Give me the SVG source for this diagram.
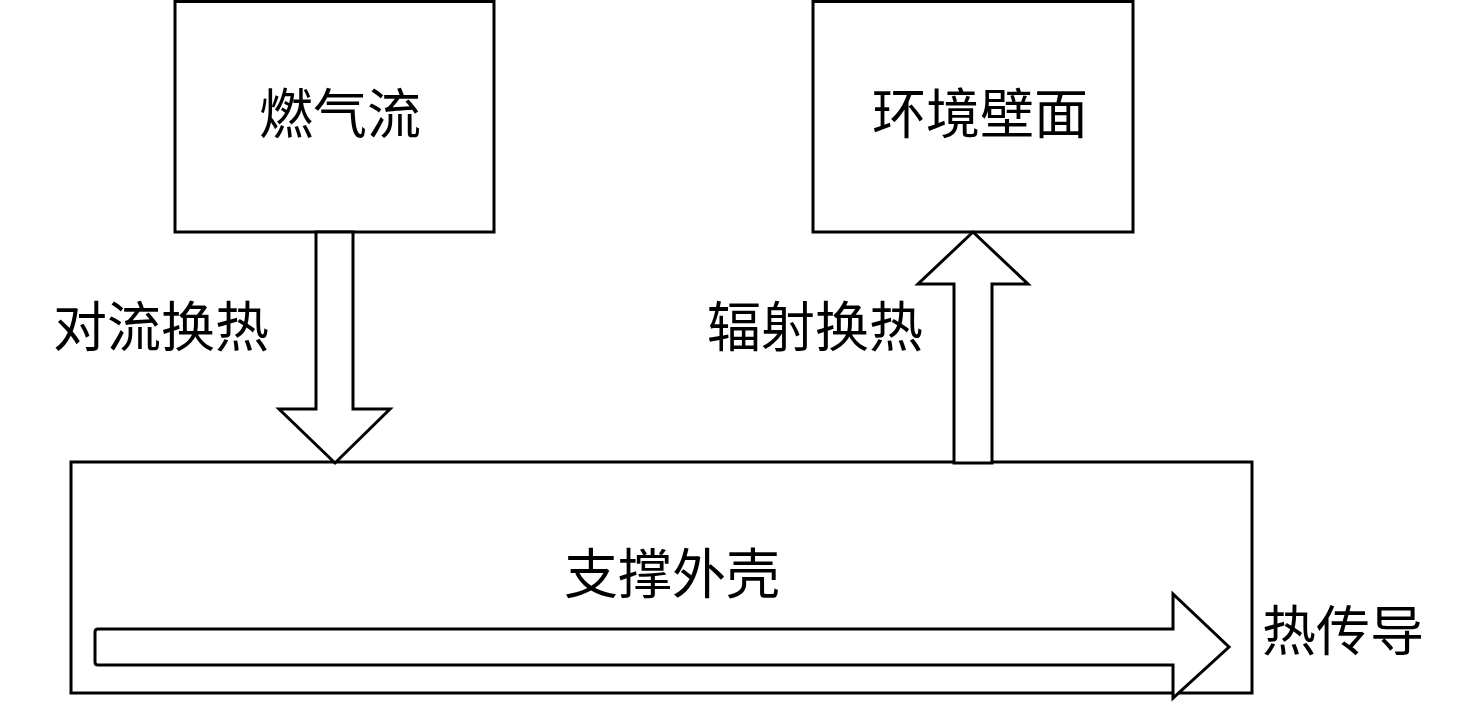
<svg xmlns="http://www.w3.org/2000/svg" width="1476" height="703" viewBox="0 0 1476 703">
<style>
.box{fill:#fff;stroke:#000;stroke-width:3}
.arr{fill:#fff;stroke:#000;stroke-width:3;stroke-linejoin:miter}
.t{font-family:"Noto Sans CJK SC","Noto Sans CJK JP",sans-serif;font-size:54px;fill:#000;text-anchor:middle}
</style>
<rect width="1476" height="703" fill="#fff"/>
<g id="gas">
<rect class="box" x="175" y="1.5" width="319" height="230.5"/>
<text class="t" x="340" y="134">燃气流</text>
</g>
<g id="wall">
<rect class="box" x="813" y="1.5" width="320" height="230.5"/>
<text class="t" x="980" y="134">环境壁面</text>
</g>
<g id="shell">
<rect class="box" x="71" y="462" width="1181" height="231"/>
<text class="t" x="672" y="594">支撑外壳</text>
</g>
<g id="connectors">
<polygon class="arr" points="316,232 353,232 353,409 390,409 335,463 279,409 316,409"/>
<polygon class="arr" points="954,463 992,463 992,284 1028,284 973,232 918,284 954,284"/>
<path class="arr" d="M98,629 L1173,629 L1173,594 L1229,647 L1173,698 L1173,665 L98,665 Q95,665 95,662 L95,632 Q95,629 98,629 Z"/>
<text class="t" x="161" y="347">对流换热</text>
<text class="t" x="815" y="347">辐射换热</text>
<text class="t" x="1343" y="651">热传导</text>
</g>
</svg>
